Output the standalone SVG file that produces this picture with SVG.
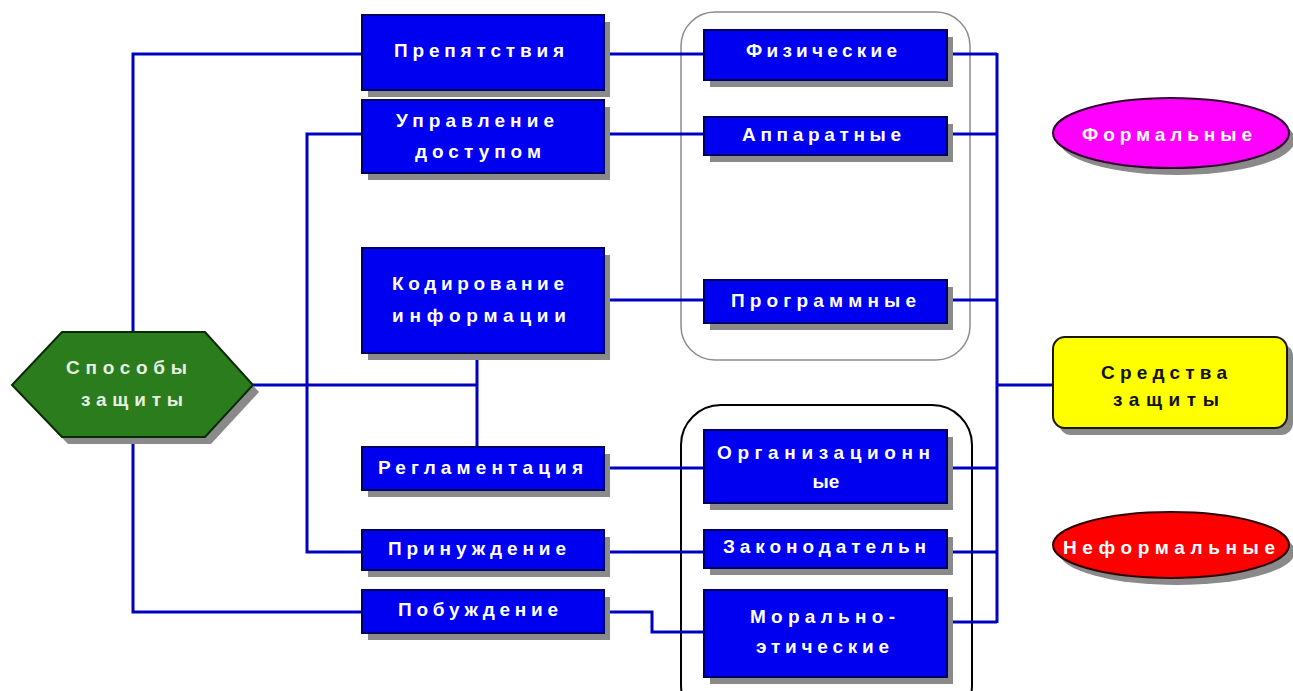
<svg xmlns="http://www.w3.org/2000/svg" width="1293" height="691" viewBox="0 0 1293 691">
<style>
.box{fill:#0000f0;stroke:#000060;stroke-width:2}
.sh{fill:#8a8a8a}
.t{font-family:"Liberation Sans",Arial,sans-serif;font-weight:bold;font-size:19px;fill:#ffffff}
.tk{font-family:"Liberation Sans",Arial,sans-serif;font-weight:bold;font-size:19px;fill:#111111}
.ln{fill:none;stroke:#0000c0;stroke-width:3}
</style>
<rect width="1293" height="691" fill="#ffffff"/>
<g id="groups">
<rect x="681" y="12" width="289" height="348" rx="34" fill="none" stroke="#8c8c8c" stroke-width="1.5"/>
<rect x="681" y="405" width="291" height="320" rx="40" fill="none" stroke="#000000" stroke-width="2"/>
</g>
<g id="connectors">
<polyline class="ln" points="133,332 133,54 362,54"/>
<polyline class="ln" points="253,385 477,385"/>
<polyline class="ln" points="477,353 477,447"/>
<polyline class="ln" points="133,437 133,612 362,612"/>
<polyline class="ln" points="362,134 307,134 307,552 362,552"/>
<polyline class="ln" points="604,54 704,54"/>
<polyline class="ln" points="604,134 704,134"/>
<polyline class="ln" points="604,300 704,300"/>
<polyline class="ln" points="604,468 704,468"/>
<polyline class="ln" points="604,552 704,552"/>
<polyline class="ln" points="604,612 652,612 652,632 704,632"/>
<polyline class="ln" points="947,54 997,54"/>
<polyline class="ln" points="947,134 997,134"/>
<polyline class="ln" points="947,300 997,300"/>
<polyline class="ln" points="947,468 997,468"/>
<polyline class="ln" points="947,552 997,552"/>
<polyline class="ln" points="947,622 997,622"/>
<polyline class="ln" points="997,53 997,623"/>
<polyline class="ln" points="997,385 1053,385"/>
</g>
<g id="sposoby">
<polygon class="sh" points="18,392 68,339 211,339 259,392 211,444 68,444"/>
<polygon points="12,385 62,332 205,332 253,385 205,437 62,437" fill="#2a7c1c" stroke="#0a2a06" stroke-width="2"/>
<text class="t" x="66" y="374" textLength="121" lengthAdjust="spacing" style="fill:#e8f0e0">Способы</text>
<text class="t" x="81" y="406" textLength="102" lengthAdjust="spacing" style="fill:#e8f0e0">защиты</text>
</g>
<g id="prepyatstviya">
<rect class="sh" x="368" y="22" width="242" height="75"/>
<rect class="box" x="362" y="15" width="242" height="75"/>
<text class="t" x="394" y="57" textLength="170" lengthAdjust="spacing">Препятствия</text>
</g>
<g id="upravlenie">
<rect class="sh" x="368" y="107" width="242" height="73"/>
<rect class="box" x="362" y="100" width="242" height="73"/>
<text class="t" x="396" y="127" textLength="158" lengthAdjust="spacing">Управление</text>
<text class="t" x="415" y="158" textLength="126" lengthAdjust="spacing">доступом</text>
</g>
<g id="kodirovanie">
<rect class="sh" x="368" y="255" width="242" height="105"/>
<rect class="box" x="362" y="248" width="242" height="105"/>
<text class="t" x="392" y="290" textLength="172" lengthAdjust="spacing">Кодирование</text>
<text class="t" x="392" y="322" textLength="174" lengthAdjust="spacing">информации</text>
</g>
<g id="reglamentaciya">
<rect class="sh" x="368" y="454" width="242" height="43"/>
<rect class="box" x="362" y="447" width="242" height="43"/>
<text class="t" x="378" y="474" textLength="205" lengthAdjust="spacing">Регламентация</text>
</g>
<g id="prinuzhdenie">
<rect class="sh" x="368" y="537" width="242" height="40"/>
<rect class="box" x="362" y="530" width="242" height="40"/>
<text class="t" x="388" y="555" textLength="178" lengthAdjust="spacing">Принуждение</text>
</g>
<g id="pobuzhdenie">
<rect class="sh" x="368" y="597" width="242" height="43"/>
<rect class="box" x="362" y="590" width="242" height="43"/>
<text class="t" x="398" y="616" textLength="160" lengthAdjust="spacing">Побуждение</text>
</g>
<g id="fizicheskie">
<rect class="sh" x="710" y="37" width="243" height="50"/>
<rect class="box" x="704" y="30" width="243" height="50"/>
<text class="t" x="746" y="57" textLength="151" lengthAdjust="spacing">Физические</text>
</g>
<g id="apparatnye">
<rect class="sh" x="710" y="124" width="243" height="38"/>
<rect class="box" x="704" y="117" width="243" height="38"/>
<text class="t" x="742" y="141" textLength="159" lengthAdjust="spacing">Аппаратные</text>
</g>
<g id="programmnye">
<rect class="sh" x="710" y="287" width="243" height="43"/>
<rect class="box" x="704" y="280" width="243" height="43"/>
<text class="t" x="731" y="307" textLength="185" lengthAdjust="spacing">Программные</text>
</g>
<g id="organizacionnye">
<rect class="sh" x="710" y="437" width="243" height="73"/>
<rect class="box" x="704" y="430" width="243" height="73"/>
<text class="t" x="717" y="459" textLength="213" lengthAdjust="spacing">Организационн</text>
<text class="t" x="826" y="488" text-anchor="middle">ые</text>
</g>
<g id="zakonodateln">
<rect class="sh" x="710" y="537" width="243" height="38"/>
<rect class="box" x="704" y="530" width="243" height="38"/>
<text class="t" x="723" y="553" textLength="203" lengthAdjust="spacing">Законодательн</text>
</g>
<g id="moralno">
<rect class="sh" x="710" y="597" width="243" height="87"/>
<rect class="box" x="704" y="590" width="243" height="87"/>
<text class="t" x="750" y="623" textLength="145" lengthAdjust="spacing">Морально-</text>
<text class="t" x="756" y="653" textLength="133" lengthAdjust="spacing">этические</text>
</g>
<g id="sredstva">
<rect class="sh" x="1059" y="344" width="234" height="91" rx="12"/>
<rect x="1053" y="337" width="234" height="91" rx="12" fill="#ffff00" stroke="#1a1a00" stroke-width="2"/>
<text class="tk" x="1101" y="379" textLength="126" lengthAdjust="spacing">Средства</text>
<text class="tk" x="1113" y="406" textLength="106" lengthAdjust="spacing">защиты</text>
</g>
<g id="formalnye">
<ellipse class="sh" cx="1177" cy="140" rx="118" ry="35"/>
<ellipse cx="1171" cy="133" rx="118" ry="35" fill="#ff00ff" stroke="#300030" stroke-width="2"/>
<text class="t" x="1082" y="141" textLength="170" lengthAdjust="spacing">Формальные</text>
</g>
<g id="neformalnye">
<ellipse class="sh" cx="1177" cy="552" rx="118" ry="33"/>
<ellipse cx="1171" cy="545" rx="118" ry="33" fill="#ff0000" stroke="#300000" stroke-width="2"/>
<text class="t" x="1063" y="554" textLength="212" lengthAdjust="spacing">Неформальные</text>
</g>
</svg>
